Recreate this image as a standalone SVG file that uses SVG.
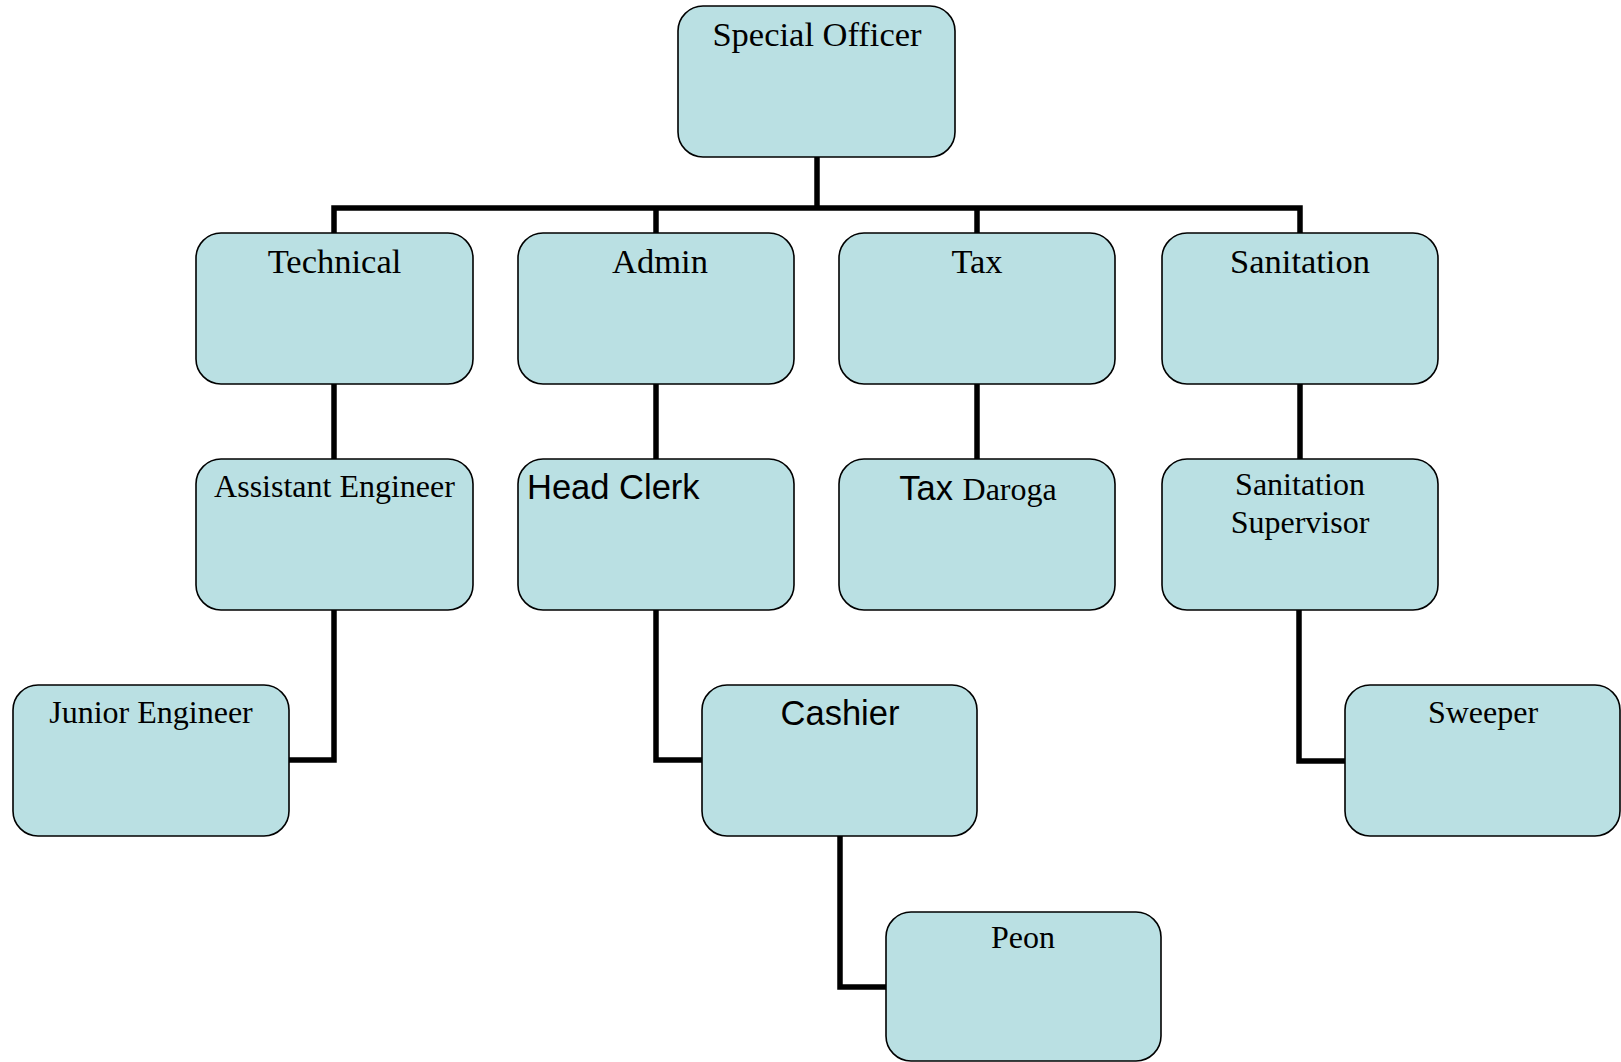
<svg xmlns="http://www.w3.org/2000/svg" width="1621" height="1062" viewBox="0 0 1621 1062">
  <style>
    .box { fill: #BAE0E3; stroke: #000; stroke-width: 1.6; }
    .wire { fill: none; stroke: #000; stroke-width: 5.5; stroke-linejoin: miter; }
    .serif { font-family: "Liberation Serif", "Times New Roman", serif; fill: #000; }
    .sans { font-family: "Liberation Sans", Arial, sans-serif; fill: #000; }
    .big { font-size: 34.5px; }
    .mid { font-size: 32px; }
  </style>

  <!-- connectors -->
  <g id="connectors">
    <path class="wire" d="M817 157 V208"/>
    <path class="wire" d="M334 233 V208 H1300 V233"/>
    <path class="wire" d="M656 208 V233"/>
    <path class="wire" d="M977 208 V233"/>
    <path class="wire" d="M334 384 V459"/>
    <path class="wire" d="M656 384 V459"/>
    <path class="wire" d="M977 384 V459"/>
    <path class="wire" d="M1300 384 V459"/>
    <path class="wire" d="M334 610 V760 H289"/>
    <path class="wire" d="M656 610 V760 H702"/>
    <path class="wire" d="M840 836 V987 H886"/>
    <path class="wire" d="M1299 610 V761 H1345"/>
  </g>

  <g id="special-officer">
    <rect class="box" x="678" y="6" width="277" height="151" rx="25"/>
    <text class="serif big" x="817" y="46" text-anchor="middle">Special Officer</text>
  </g>

  <g id="technical">
    <rect class="box" x="196" y="233" width="277" height="151" rx="25"/>
    <text class="serif big" x="334.5" y="273" text-anchor="middle">Technical</text>
  </g>
  <g id="admin">
    <rect class="box" x="518" y="233" width="276" height="151" rx="25"/>
    <text class="serif big" x="660" y="273" text-anchor="middle">Admin</text>
  </g>
  <g id="tax">
    <rect class="box" x="839" y="233" width="276" height="151" rx="25"/>
    <text class="serif big" x="977" y="273" text-anchor="middle">Tax</text>
  </g>
  <g id="sanitation">
    <rect class="box" x="1162" y="233" width="276" height="151" rx="25"/>
    <text class="serif big" x="1300" y="273" text-anchor="middle">Sanitation</text>
  </g>

  <g id="assistant-engineer">
    <rect class="box" x="196" y="459" width="277" height="151" rx="25"/>
    <text class="serif mid" x="334.5" y="497" text-anchor="middle">Assistant Engineer</text>
  </g>
  <g id="head-clerk">
    <rect class="box" x="518" y="459" width="276" height="151" rx="25"/>
    <text class="sans big" x="527" y="499">Head Clerk</text>
  </g>
  <g id="tax-daroga">
    <rect class="box" x="839" y="459" width="276" height="151" rx="25"/>
    <text x="978" y="500" text-anchor="middle"><tspan class="sans big">Tax </tspan><tspan class="serif mid">Daroga</tspan></text>
  </g>
  <g id="sanitation-supervisor">
    <rect class="box" x="1162" y="459" width="276" height="151" rx="25"/>
    <text class="serif mid" x="1300" y="495" text-anchor="middle">Sanitation</text>
    <text class="serif mid" x="1300" y="533" text-anchor="middle">Supervisor</text>
  </g>

  <g id="junior-engineer">
    <rect class="box" x="13" y="685" width="276" height="151" rx="25"/>
    <text class="serif mid" x="151" y="723" text-anchor="middle">Junior Engineer</text>
  </g>
  <g id="cashier">
    <rect class="box" x="702" y="685" width="275" height="151" rx="25"/>
    <text class="sans big" x="840" y="725" text-anchor="middle">Cashier</text>
  </g>
  <g id="sweeper">
    <rect class="box" x="1345" y="685" width="275" height="151" rx="25"/>
    <text class="serif mid" x="1483" y="723" text-anchor="middle">Sweeper</text>
  </g>

  <g id="peon">
    <rect class="box" x="886" y="912" width="275" height="149" rx="25"/>
    <text class="serif mid" x="1023" y="948" text-anchor="middle">Peon</text>
  </g>
</svg>
